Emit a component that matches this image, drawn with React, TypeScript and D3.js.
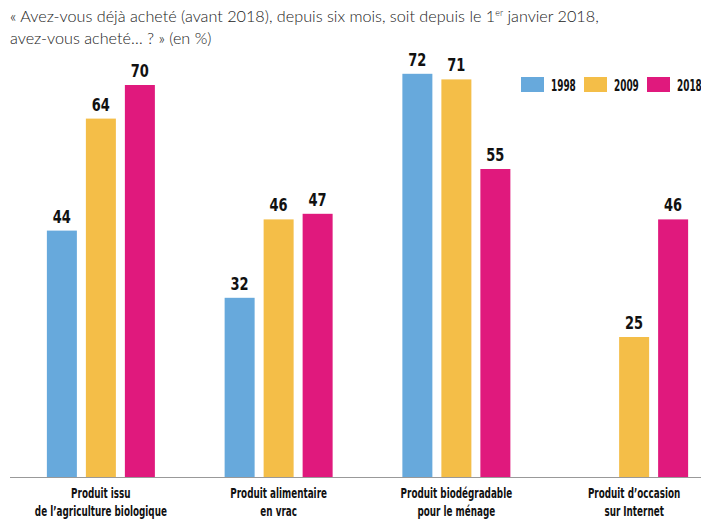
import React, { useEffect, useRef } from 'react';
import * as d3 from 'd3';

const categories = [
  ['Produit issu', 'de l\u2019agriculture biologique'],
  ['Produit alimentaire', 'en vrac'],
  ['Produit biodégradable', 'pour le ménage'],
  ['Produit d\u2019occasion', 'sur Internet'],
];
const years = ['1998', '2009', '2018'];
const values1998 = [44, 32, 72, null];
const values2009 = [64, 46, 71, 25];
const values2018 = [70, 47, 55, 46];
const colors = ['#67a9dc', '#f4be48', '#e0197d'];

const W = 701;
const H = 519;

export default function App() {
  const svgRef = useRef<SVGSVGElement>(null);

  useEffect(() => {
    if (!svgRef.current) return;
    const svg = d3.select(svgRef.current);
    svg.selectAll('*').remove();

    const series = [values1998, values2009, values2018];
    const labelFont = '"DejaVu Sans Condensed", "DejaVu Sans", sans-serif';

    // narrow bold text (squeezed horizontally, like a condensed face)
    const narrow = (x: number, y: number, t: string, size: number, anchor: string, sx: number) =>
      svg.append('text')
        .attr('transform', `translate(${x},${y}) scale(${sx},1)`)
        .attr('text-anchor', anchor)
        .attr('font-family', labelFont)
        .attr('font-weight', 'bold')
        .attr('font-size', size)
        .attr('fill', '#111')
        .text(t);

    const x0 = d3
      .scaleBand<number>()
      .domain(d3.range(categories.length))
      .range([12, 723]);
    const bw = x0.bandwidth();
    const x1 = d3
      .scaleBand<string>()
      .domain(years)
      .range([bw / 2 - 54, bw / 2 + 54])
      .paddingInner(9 / 39);
    const y = d3.scaleLinear().domain([0, 70]).range([477, 85]);

    // title
    const title = svg
      .append('text')
      .attr('font-family', 'Lato, sans-serif')
      .attr('font-weight', 300)
      .attr('font-size', 16.2)
      .attr('fill', '#222');
    const l1 = title.append('tspan').attr('x', 10).attr('y', 22);
    l1.append('tspan').text('« Avez-vous déjà acheté (avant 2018), depuis six mois, soit depuis le 1');
    l1.append('tspan').attr('font-size', 9).attr('dy', -6).text('er');
    l1.append('tspan').attr('dy', 6).text(' janvier 2018,');
    title.append('tspan').attr('x', 10).attr('y', 44).text('avez-vous acheté… ? » (en %)');

    // bars
    series.forEach((vals, si) => {
      vals.forEach((v, ci) => {
        if (v == null) return;
        const bx = (x0(ci) || 0) + (x1(years[si]) || 0);
        svg.append('rect')
          .attr('x', bx)
          .attr('y', y(v))
          .attr('width', x1.bandwidth())
          .attr('height', y(0) - y(v))
          .attr('fill', colors[si]);
        narrow(bx + x1.bandwidth() / 2, y(v) - 8, String(v), 17, 'middle', 0.85);
      });
    });

    // axis line
    svg.append('line')
      .attr('x1', 10)
      .attr('x2', W)
      .attr('y1', y(0) + 0.5)
      .attr('y2', y(0) + 0.5)
      .attr('stroke', '#999')
      .attr('stroke-width', 1);

    // category labels
    categories.forEach((lines, ci) => {
      const cx = (x0(ci) || 0) + bw / 2;
      lines.forEach((t, li) => narrow(cx, 498 + li * 18, t, 14, 'middle', 0.7));
    });

    // legend
    const lx = [521, 584, 647];
    years.forEach((yr, i) => {
      svg.append('rect')
        .attr('x', lx[i])
        .attr('y', 77)
        .attr('width', 23)
        .attr('height', 15)
        .attr('fill', colors[i]);
      narrow(lx[i] + 30, 91, yr, 16, 'start', 0.62);
    });
  }, []);

  return (
    <svg
      ref={svgRef}
      width={W}
      height={H}
      style={{ position: 'absolute', left: 0, top: 0, background: '#fff' }}
    />
  );
}
